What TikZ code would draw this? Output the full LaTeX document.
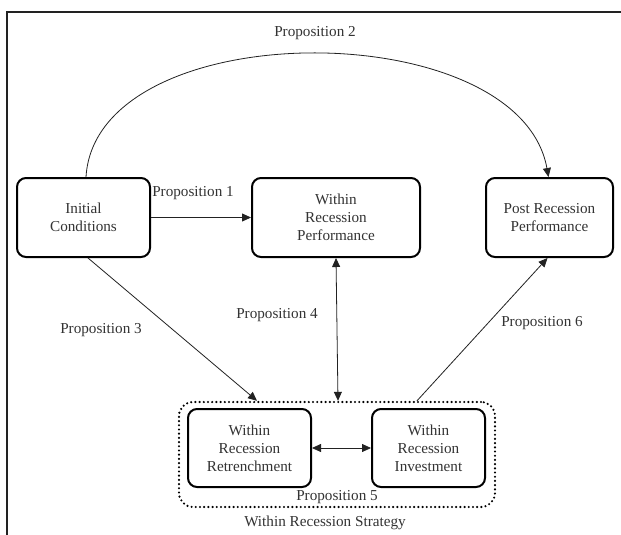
\documentclass[tikz,border=0pt]{standalone}
\usepackage{fontspec}
\setmainfont{Liberation Serif}
\usetikzlibrary{arrows.meta}
\definecolor{txt}{HTML}{333333}
\definecolor{ln}{HTML}{222222}
\begin{document}
\begin{tikzpicture}[x=1pt,y=-1pt,
  every node/.style={font=\fontsize{15.2}{18}\selectfont, text=txt},
  bigbox/.style={draw=black, line width=2pt, rounded corners=9pt, align=center, inner sep=0pt},
  conn/.style={draw=ln, line width=0.8pt, -{Triangle[length=9pt,width=8pt]}},
  dconn/.style={draw=ln, line width=0.8pt, {Triangle[length=9pt,width=8pt]}-{Triangle[length=9pt,width=8pt]}},
  lbl/.style={inner sep=0pt}
]
\useasboundingbox (0,0) rectangle (621,535);
\fill[white] (0,0) rectangle (621,535);
\draw[line width=1.2pt, ln] (7,535) -- (7,12) -- (621,12);

\node[bigbox, minimum width=133pt, minimum height=79pt] (init) at (83.5,217.5) {Initial\\Conditions};
\node[bigbox, minimum width=168pt, minimum height=79pt] (wperf) at (336,217.5) {Within\\Recession\\Performance};
\node[bigbox, minimum width=127pt, minimum height=79pt] (post) at (549.5,217.5) {Post Recession\\Performance};

\node[draw=black, line width=2.4pt, dash pattern=on 0pt off 4.2pt, line cap=round, rounded corners=14pt, minimum width=316pt, minimum height=105pt, inner sep=0pt] (strat) at (337,454.5) {};
\node[bigbox, minimum width=123pt, minimum height=78pt] (retr) at (249.5,448) {Within\\Recession\\Retrenchment};
\node[bigbox, minimum width=113pt, minimum height=78pt] (inv) at (428.5,448) {Within\\Recession\\Investment};

\node[lbl] (p1) at (193,193) {Proposition 1};
\node[lbl] (p2) at (315,33) {Proposition 2};
\node[lbl] (p3) at (101,330) {Proposition 3};
\node[lbl] (p4) at (277,315) {Proposition 4};
\node[lbl] (p5) at (337,497) {Proposition 5};
\node[lbl] (p6) at (542,323) {Proposition 6};
\node[lbl] (st) at (325,523) {Within Recession Strategy};

\draw[conn] (init.east) -- (wperf.west);
\draw[conn] ([xshift=2.5pt]init.north) .. controls (96,13) and (519,13) .. ([xshift=-1pt]post.north);
\draw[conn] ([xshift=4.5pt]init.south) -- ([xshift=-80pt]strat.north);
\draw[dconn] (wperf.south) -- ([xshift=1pt]strat.north);
\draw[conn] ([xshift=80pt]strat.north) -- ([xshift=-2pt]post.south);
\draw[dconn] (retr.east) -- (inv.west);
\end{tikzpicture}
\end{document}
